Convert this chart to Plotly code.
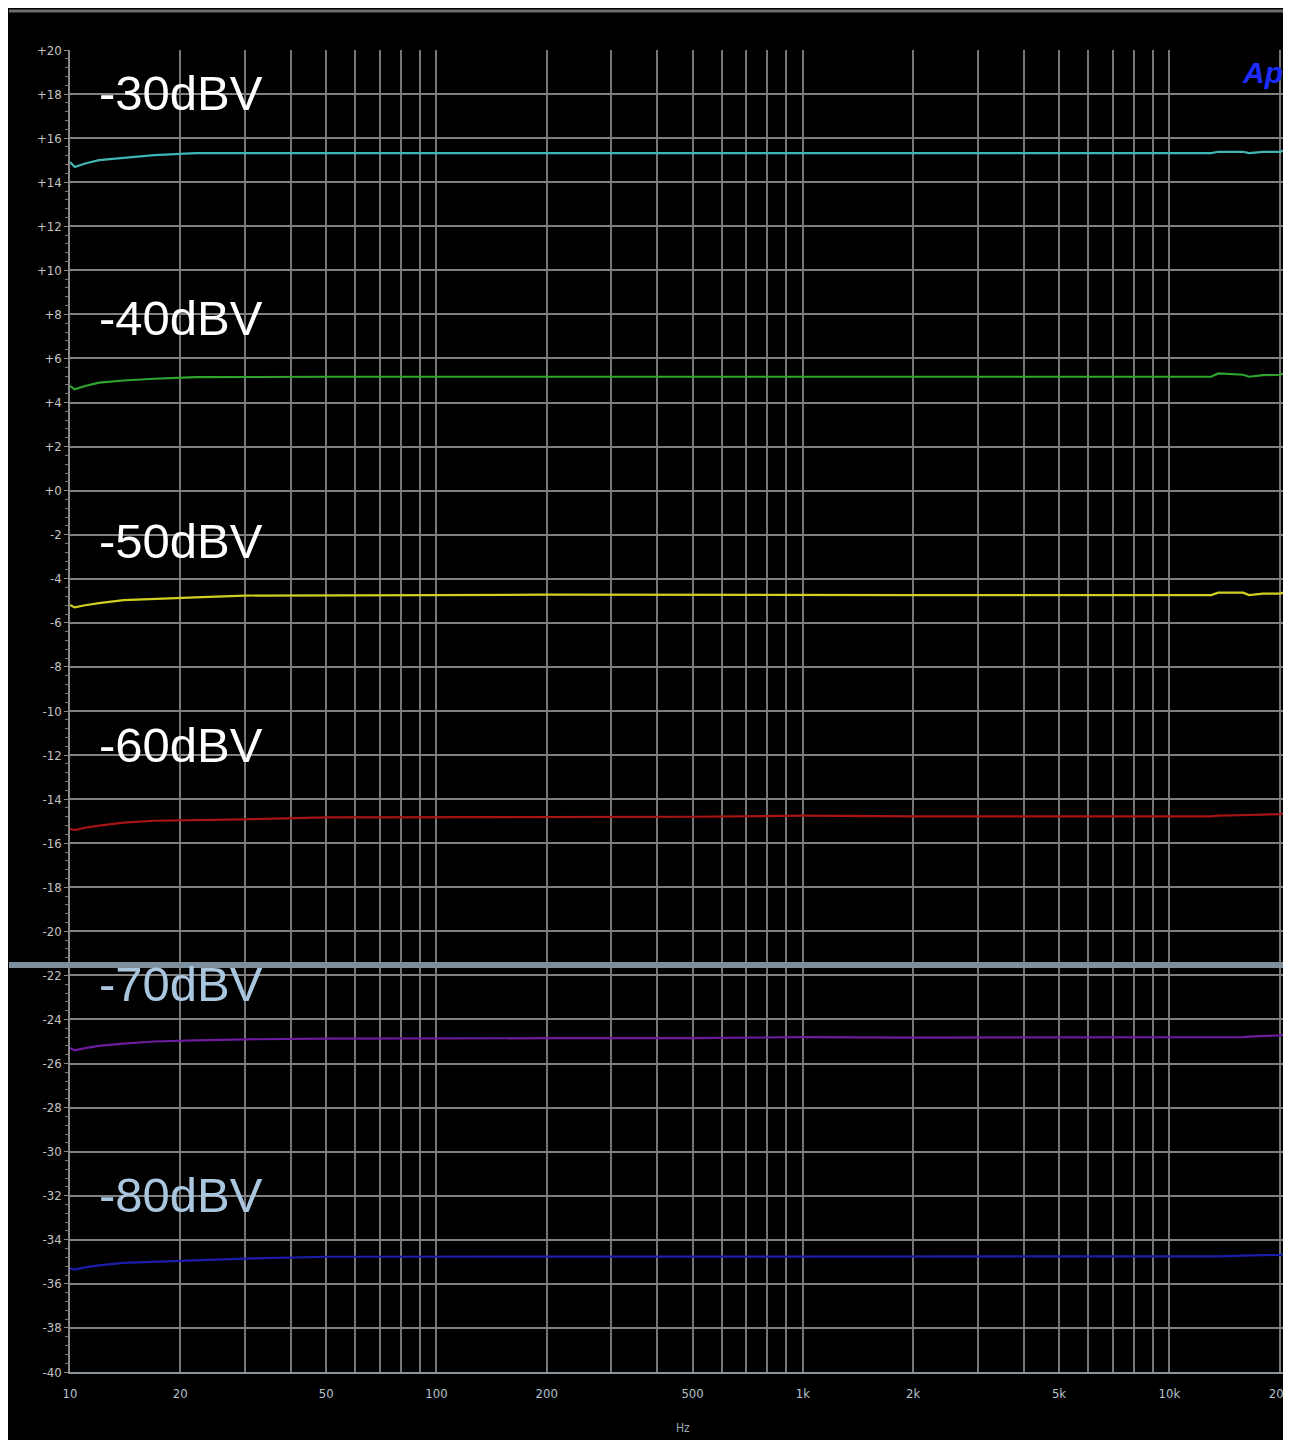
import plotly.graph_objects as go

# ---- data ----
freq = [10, 10.3, 11, 12, 14, 17, 22, 30, 50, 100, 200, 500, 1000, 2000, 5000,
        10000, 13000, 13600, 15900, 16500, 18000, 20100, 21500]

lvl_30 = [14.92, 14.69, 14.85, 15.0, 15.1, 15.23, 15.32, 15.32, 15.32, 15.32, 15.32, 15.32,
          15.32, 15.32, 15.32, 15.32, 15.32, 15.38, 15.38, 15.32, 15.38, 15.38, 15.6]
lvl_40 = [4.75, 4.6, 4.75, 4.9, 5.0, 5.08, 5.15, 5.17, 5.17, 5.17, 5.17, 5.17,
          5.17, 5.17, 5.17, 5.17, 5.17, 5.32, 5.26, 5.17, 5.24, 5.26, 5.47]
lvl_50 = [-5.19, -5.3, -5.2, -5.1, -4.97, -4.9, -4.84, -4.76, -4.74, -4.74, -4.72, -4.74,
          -4.74, -4.74, -4.74, -4.74, -4.74, -4.63, -4.63, -4.74, -4.67, -4.67, -4.51]
lvl_60 = [-15.36, -15.4, -15.3, -15.2, -15.07, -14.98, -14.95, -14.92, -14.83, -14.83, -14.83, -14.8,
          -14.75, -14.78, -14.78, -14.8, -14.78, -14.75, -14.75, -14.72, -14.7, -14.68, -14.6]
lvl_70 = [-25.3, -25.4, -25.3, -25.2, -25.1, -25.0, -24.95, -24.9, -24.87, -24.85, -24.85, -24.85,
          -24.8, -24.82, -24.82, -24.82, -24.82, -24.8, -24.8, -24.78, -24.75, -24.72, -24.65]
lvl_80 = [-35.3, -35.35, -35.25, -35.16, -35.05, -35.0, -34.93, -34.85, -34.77, -34.77, -34.77, -34.77,
          -34.77, -34.77, -34.77, -34.75, -34.75, -34.75, -34.72, -34.72, -34.7, -34.68, -34.6]

series_labels = ["-30dBV", "-40dBV", "-50dBV", "-60dBV", "-70dBV", "-80dBV"]
series_values = [lvl_30, lvl_40, lvl_50, lvl_60, lvl_70, lvl_80]
series_colors = ["#3fb6b6", "#2fa42f", "#cfcf22", "#a81414", "#6c1c9c", "#1c1cab"]
label_y = [18.07, 7.83, -2.29, -11.55, -22.4, -31.97]
label_colors = ["#ffffff", "#ffffff", "#ffffff", "#ffffff", "#a9c6de", "#a9c6de"]

x_grid = [10, 20, 30, 40, 50, 60, 70, 80, 90, 100, 200, 300, 400, 500, 600, 700, 800, 900,
          1000, 2000, 3000, 4000, 5000, 6000, 7000, 8000, 9000, 10000, 20000]
x_labeled = {10: "10", 20: "20", 50: "50", 100: "100", 200: "200", 500: "500",
             1000: "1k", 2000: "2k", 5000: "5k", 10000: "10k", 20000: "20k"}
y_ticks = list(range(-40, 21, 2))
y_text = [("+%d" % v if v > 0 else ("+0" if v == 0 else "%d" % v)) for v in y_ticks]

# page has an 8px body margin, so the figure is placed 8px in from the top-left
W, H = 1283, 1432
L, R, T, B = 62, 0, 42, 68
pw, ph = W - L - R, H - T - B

fig = go.Figure()
for vals, col in zip(series_values, series_colors):
    fig.add_trace(go.Scatter(x=freq, y=vals, mode="lines", line=dict(color=col, width=2.2),
                             showlegend=False, hoverinfo="skip"))

for txt, yy, col in zip(series_labels, label_y, label_colors):
    fig.add_annotation(x=(89 - L) / pw, xref="paper", y=yy, yref="y", text=txt,
                       showarrow=False, xanchor="left", yanchor="middle",
                       font=dict(family="Liberation Sans, Arial", size=49, color=col))

# "Ap" logo at the top-right corner
fig.add_annotation(x=(1232 - L) / pw, xref="paper", y=1 - (64 - T) / ph, yref="paper",
                   text="<b><i>Ap</i></b>", showarrow=False, xanchor="left", yanchor="middle",
                   font=dict(family="Liberation Sans, Arial", size=30, color="#1e2cff"))

# x-axis title
fig.add_annotation(x=(675 - L) / pw, xref="paper", y=-(1420 - (H - B)) / ph, yref="paper", text="Hz",
                   showarrow=False, xanchor="center", yanchor="middle",
                   font=dict(family="Liberation Sans Narrow, DejaVu Sans Condensed", size=12, color="#9aa8b4"))

shapes = [
    # top grey rule
    dict(type="line", xref="paper", yref="paper", x0=(1 - L) / pw, x1=1,
         y0=1 + (T - 3) / ph, y1=1 + (T - 3) / ph, line=dict(color="#6e6e6e", width=3)),
    # thick separating band
    dict(type="line", xref="paper", yref="paper", x0=(1 - L) / pw, x1=1,
         y0=1 - (957 - T) / ph, y1=1 - (957 - T) / ph, line=dict(color="#7d8f9d", width=6),
         layer="above"),
]

fig.update_layout(
    width=W, height=H, margin=dict(l=L, r=R, t=T, b=B),
    paper_bgcolor="black", plot_bgcolor="black", shapes=shapes,
    xaxis=dict(type="log", range=[1, 4.332], tickvals=x_grid,
               ticktext=[x_labeled.get(v, "") for v in x_grid],
               showgrid=True, gridcolor="#767676", gridwidth=1.5,
               showline=True, linecolor="#8a949c", linewidth=2,
               ticks="", zeroline=False, ticklabelstandoff=8,
               tickfont=dict(family="Liberation Sans Narrow, DejaVu Sans Condensed", size=13, color="#b4c2cc")),
    yaxis=dict(range=[-40, 20], tickvals=y_ticks, ticktext=y_text,
               showgrid=True, gridcolor="#808080", gridwidth=2,
               showline=True, linecolor="#8a8a8a", linewidth=1.5,
               ticks="outside", ticklen=4, tickcolor="#8a8a8a", zeroline=False,
               minor=dict(dtick=0.4, ticks="outside", ticklen=3, tickcolor="#777777", showgrid=False),
               tickfont=dict(family="Liberation Sans Narrow, DejaVu Sans Condensed", size=13, color="#c4c4c4")),
)

fig.write_html("out.html")
